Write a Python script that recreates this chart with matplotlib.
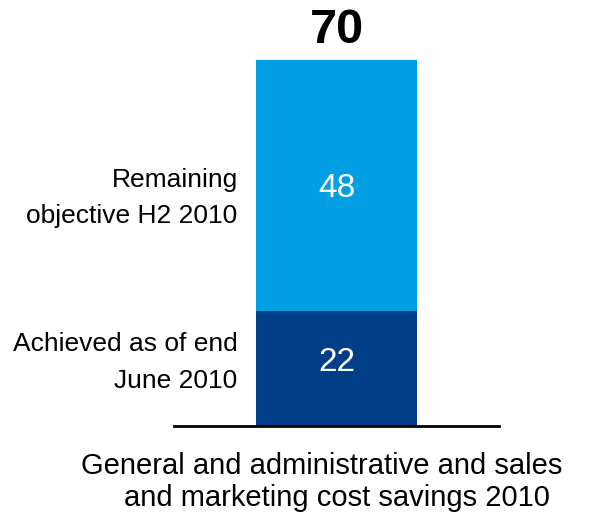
import matplotlib.pyplot as plt

plt.rcParams['font.family'] = ['Liberation Sans', 'DejaVu Sans']

# data
segments = ['Achieved as of end\nJune 2010', 'Remaining\nobjective H2 2010']
values = [22, 48]
colors = ['#003f87', '#009fe3']
total = sum(values)
category = 'General and administrative and sales\nand marketing cost savings 2010'

W, H = 604, 516
fig = plt.figure(figsize=(W / 100, H / 100), dpi=100)
# axes placed in pixel terms: baseline at y=426, value 70 at y=60, x from 174 to 499
ax = fig.add_axes([174 / W, (H - 426) / H, 325 / W, (426 - 60) / H])
ax.set_xlim(0, 1)
ax.set_ylim(0, total)
ax.axis('off')

# small vertical nudges for the texts of each segment
num_dy = [1.2, -0.5]
lab_dy = [-3.7, -7.2]

bottom = 0
for name, v, c, dn, dl in zip(segments, values, colors, num_dy, lab_dy):
    ax.bar(0.5, v, width=0.495, bottom=bottom, color=c, zorder=2)
    mid = bottom + v / 2
    # value inside the segment
    ax.text(0.5, mid + dn, str(v), ha='center', va='center',
            color='white', fontsize=24)
    # segment label on the left (baseline of last line)
    ax.text(0.196, mid + dl, name, ha='right', va='baseline',
            fontsize=19, linespacing=1.65)
    bottom += v

# total above the bar
ax.text(0.5, total + 5.7, str(total), ha='center', va='center',
        fontsize=35, fontweight='bold', clip_on=False)

# baseline
ax.plot([0, 1], [0, 0], color='black', lw=2, clip_on=False, zorder=3)

# category label under the baseline
lines = category.split('\n')
fig.text(322 / W, 1 - 466 / H, lines[0], ha='center', va='center', fontsize=21)
fig.text(336.5 / W, 1 - 498 / H, lines[1], ha='center', va='center', fontsize=21)

fig.savefig('out.png', dpi=100)
